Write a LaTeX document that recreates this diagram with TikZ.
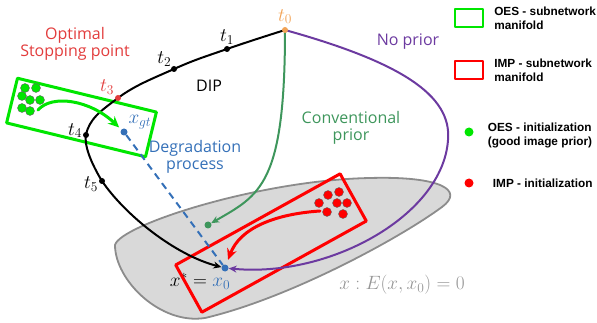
\documentclass[tikz,border=0pt]{standalone}
\usepackage{fix-cm}
\usepackage[no-math]{fontspec}
\newfontfamily\labelfont{Open Sans}
\newfontfamily\legendfont{Liberation Sans}
\usetikzlibrary{positioning,arrows.meta}

\definecolor{tzero}{RGB}{242,162,84}
\definecolor{optred}{RGB}{226,60,60}
\definecolor{impred}{RGB}{255,0,0}
\definecolor{oesgreen}{RGB}{0,230,0}
\definecolor{convgreen}{RGB}{62,150,92}
\definecolor{nopurple}{RGB}{108,58,160}
\definecolor{ptblue}{RGB}{52,112,184}
\definecolor{blobfill}{RGB}{217,217,217}
\definecolor{blobline}{RGB}{140,140,140}
\definecolor{eqgray}{RGB}{150,150,150}

\tikzset{
  tdot/.style={circle, inner sep=0pt, minimum size=7pt},
  seed/.style={circle, inner sep=0pt, minimum size=9pt, draw=black!60, line width=0.4pt},
  oesbox/.style={draw=oesgreen, line width=3pt, inner sep=0pt},
  impbox/.style={draw=impred, line width=3pt, inner sep=0pt},
  mlab/.style={font=\fontsize{17.5}{19}\selectfont, scale=1.1},
  legendtext/.style={font=\legendfont\bfseries\fontsize{11.8}{14}\selectfont, align=left, inner sep=0pt},
}

\begin{document}
\begin{tikzpicture}[x=1pt, y=-1pt, line join=round, line cap=round, >={Stealth[length=8pt,width=7pt]}, font=\labelfont\fontsize{16}{17}\selectfont]
	\useasboundingbox (0,0) rectangle (597,323);
	
	% Vùng nghiệm (màu xám)
	\draw[blobline, fill=blobfill, line width=1.8pt] (115,245) .. controls (120,225) and (260,180) .. (370,178)
		.. controls (440,176) and (465,190) .. (442,207)
		.. controls (400,238) and (290,298) .. (205,318)
		.. controls (160,325) and (115,280) .. (115,245) -- cycle;
	\node[mlab] (xstar) at (200,281) {$x^* = {\color{ptblue}x_0}$};
	\node[mlab, eqgray] (eq) at (402,285) {$x : E(x,x_0) = 0$};
	
	% Hai hình chữ nhật
	\node[impbox, rotate=29, minimum width=188, minimum height=54] (imp) at (271,243) {};
	\node[oesbox, rotate=-13.7, minimum width=143, minimum height=46] (oes) at (81.5,117.5) {};
	
	% Tọa độ các điểm
	\coordinate (t0) at (285,30);
	\coordinate (t1) at (227,49);
	\coordinate (t2) at (174,69);
	\coordinate (t3) at (118,98);
	\coordinate (t4) at (86,135);
	\coordinate (t5) at (102,181);
	\coordinate (oesstart) at (38,110);
	\coordinate (impstart) at (320,211);
	\node[tdot, fill=ptblue] (x0) at (225,268) {};
	\node[tdot, fill=ptblue] (xgt) at (124,132) {};
	\node[tdot, fill=convgreen] (gd) at (208,225) {};
	
	% Quá trình suy biến
	\draw[ptblue, line width=2pt, dash pattern=on 7pt off 5pt, line cap=butt] (xgt) -- (x0);
	
	% Các đường cong
	\draw[line width=2pt] plot[smooth, tension=0.7] coordinates {(t0) (t1) (t2) (t3) (t4) (t5)};
	\draw[line width=2pt, ->] (t5) .. controls (125,215) and (175,255) .. (x0);
	\draw[convgreen, line width=2pt, ->] (t0) .. controls (285,185) and (260,195) .. (gd);
	\draw[nopurple, line width=2pt, ->] (t0) .. controls (400,62) and (452,95) .. (448,140)
		.. controls (443,215) and (330,278) .. (x0);
	\draw[impred, line width=3pt, -{Stealth[length=11pt,width=10pt]}, shorten >=5pt] (impstart) .. controls (275,214) and (240,228) .. (x0);
	\draw[oesgreen, line width=3pt, -{Stealth[length=11pt,width=10pt]}, shorten >=3pt] (oesstart) .. controls (52,94) and (90,100) .. (xgt);
	
	% Các điểm khởi tạo
	\foreach \x/\y in {25/88, 36/88, 22/96, 30/100, 40/100, 22/108, 30/111}
		\node[seed, fill=oesgreen] at (\x,\y) {};
	\foreach \x/\y in {328/195, 339/192, 319/203, 337/203, 347/203, 327/212, 343/214}
		\node[seed, fill=impred] at (\x,\y) {};
	
	% Các mốc t và nhãn
	\foreach \p/\i/\a/\dx/\dy/\c in {t0/0/south/0/2/tzero, t1/1/south/0/1/black, t2/2/south east/1/-1/black,
		t3/3/south east/0/0/optred, t4/4/east/0/4/black, t5/5/east/0/-3/black} {
		\fill[\c] (\p) circle (3pt);
		\node[mlab, anchor=\a, xshift=\dx pt, yshift=\dy pt, \c] (lab\p) at (\p) {$t_{\i}$};
	}
	\node[mlab, ptblue, above right=-4pt and -2pt of xgt] (labxgt) {$x_{gt}$};
	
	% Nhãn chữ
	\node[optred, align=center] (osp) at (75,44) {Optimal\\Stopping point};
	\node (dip) at (209,86) {DIP};
	\node[ptblue, align=center] (deg) at (195,157) {Degradation\\process};
	\node[convgreen, align=center] (conv) at (351,128) {Conventional\\prior};
	\node[nopurple] (nop) at (408,42) {No prior};
	
	% Chú thích
	\node[draw=oesgreen, line width=2.2pt, minimum width=28, minimum height=18, inner sep=0pt] (legoes) at (469,18) {};
	\node[legendtext, right=10pt of legoes] {OES - subnetwork\\manifold};
	\node[draw=impred, line width=2.2pt, minimum width=28, minimum height=18, inner sep=0pt] (legimp) at (469,70) {};
	\node[legendtext, right=10pt of legimp] {IMP - subnetwork\\manifold};
	\node[seed, fill=oesgreen, draw=none] (legoesdot) at (469,132) {};
	\node[legendtext, right=14pt of legoesdot, yshift=-3pt] {OES - initialization\\(good image prior)};
	\node[seed, fill=impred, draw=none] (legimpdot) at (469,183) {};
	\node[legendtext, right=19pt of legimpdot] {IMP - initialization};
\end{tikzpicture}
\end{document}
